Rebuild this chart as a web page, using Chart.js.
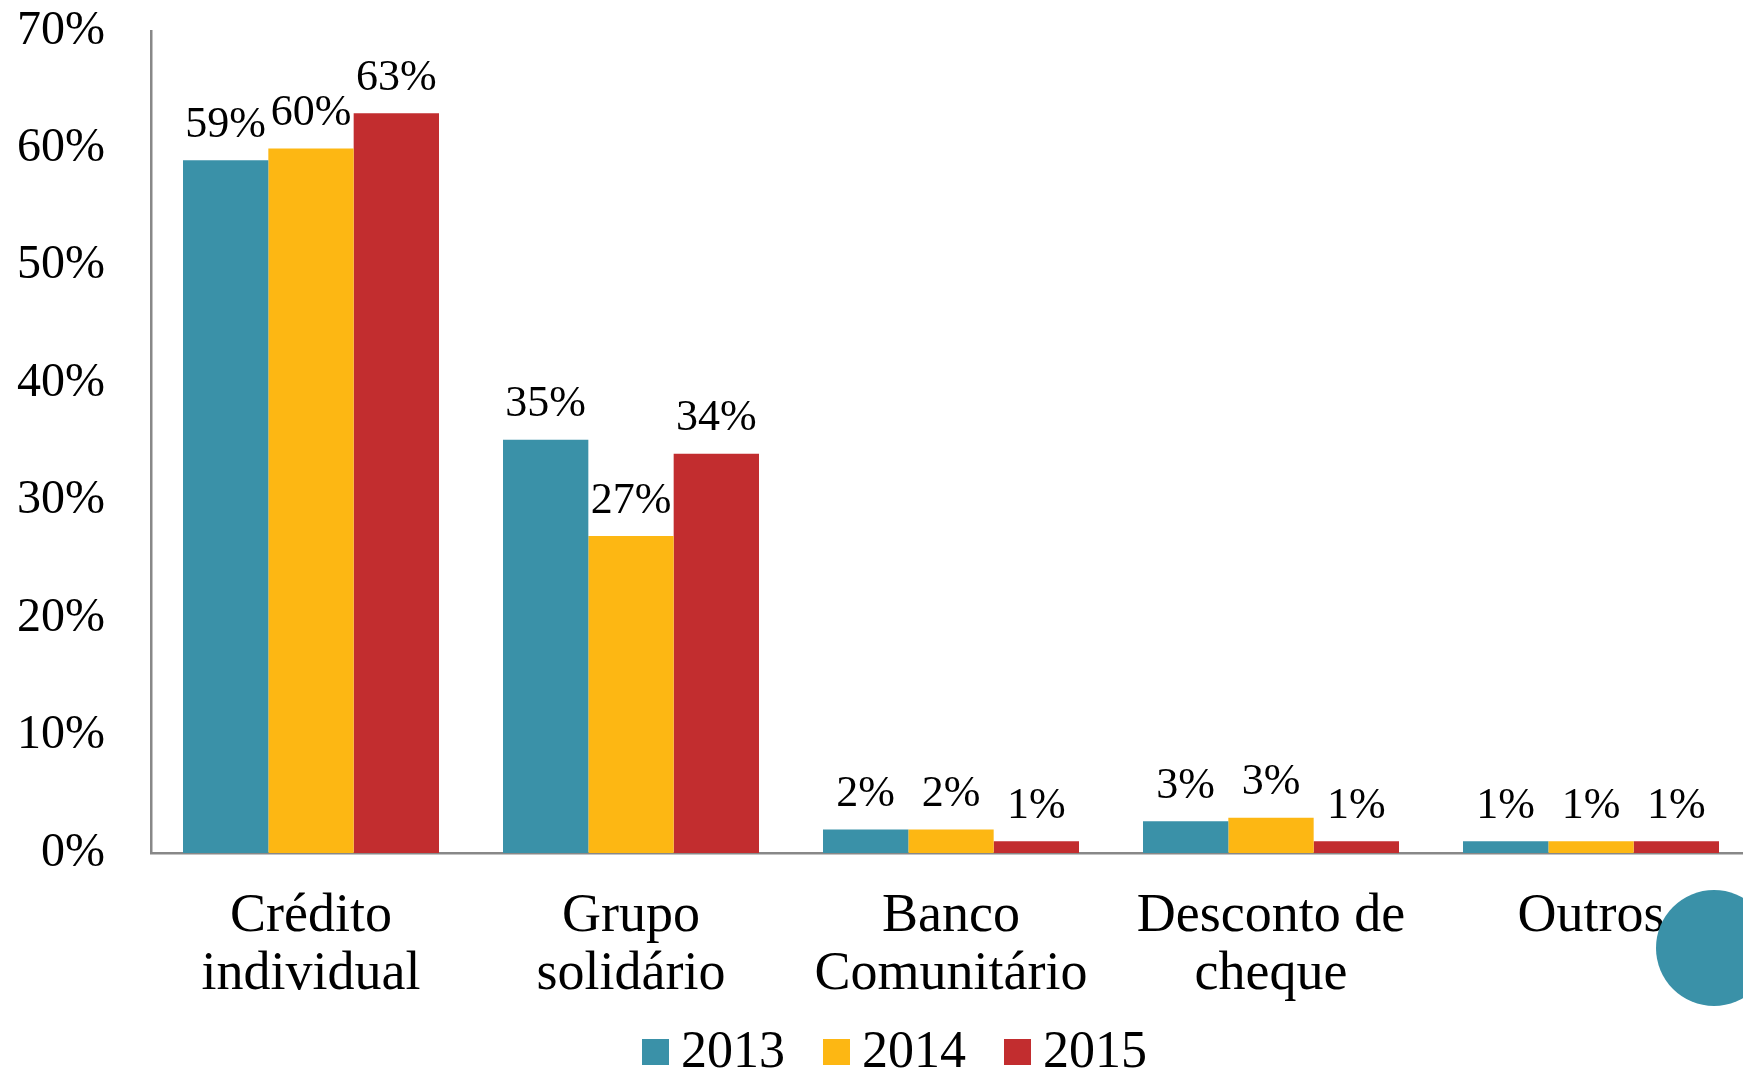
<!DOCTYPE html>
<html><head><meta charset="utf-8">
<script src="https://cdn.jsdelivr.net/npm/chart.js@4/dist/chart.umd.min.js"></script>
<style>
html,body{margin:0;padding:0;overflow:hidden;background:#fff;width:1743px;height:1073px}
#wrap{position:absolute;left:0;top:0;width:1760px;height:1073px}
</style>
</head><body><div id="wrap"><canvas id="c" width="1760" height="1073"></canvas></div>
<script>
const categories = [['Crédito','individual'],['Grupo','solidário'],['Banco','Comunitário'],['Desconto de','cheque'],'Outros'];
const seriesNames = ['2013','2014','2015'];
const values2013 = [59, 35.2, 2, 2.7, 1];
const values2014 = [60, 27, 2, 3, 1];
const values2015 = [63, 34, 1, 1, 1];
const yTickValues = [0, 10, 20, 30, 40, 50, 60, 70];
const seriesColors = ['#3a91a8', '#fdb713', '#c22d2f'];

const FONT = '"Liberation Serif", "Times New Roman", serif';

const valueLabels = {
  id: 'valueLabels',
  afterDatasetsDraw(chart) {
    const ctx = chart.ctx;
    ctx.save();
    ctx.font = '44px ' + FONT;
    ctx.fillStyle = '#000';
    ctx.textAlign = 'center';
    ctx.textBaseline = 'middle';
    chart.data.datasets.forEach((ds, i) => {
      chart.getDatasetMeta(i).data.forEach((bar, j) => {
        ctx.fillText(Math.round(ds.data[j]) + '%', bar.x, bar.y - 35);
      });
    });
    ctx.restore();
  }
};

const customLegend = {
  id: 'customLegend',
  afterDraw(chart) {
    const ctx = chart.ctx;
    ctx.save();
    ctx.font = '52px ' + FONT;
    ctx.textBaseline = 'middle';
    ctx.textAlign = 'left';
    const step = 181, startX = 642, cy = 1052;
    chart.data.datasets.forEach((ds, i) => {
      const x = startX + i * step;
      ctx.fillStyle = ds.backgroundColor;
      ctx.fillRect(x, cy - 13, 27, 26);
      ctx.fillStyle = '#000';
      ctx.fillText(ds.label, x + 39, cy + 1);
    });
    ctx.restore();
  }
};

const decoCircle = {
  id: 'decoCircle',
  afterDraw(chart) {
    const ctx = chart.ctx;
    ctx.save();
    ctx.fillStyle = '#3a91a8';
    ctx.beginPath();
    ctx.arc(1714, 948, 58, 0, Math.PI * 2);
    ctx.fill();
    ctx.restore();
  }
};

new Chart(document.getElementById('c'), {
  type: 'bar',
  data: {
    labels: categories,
    datasets: [
      { label: seriesNames[0], data: values2013, backgroundColor: seriesColors[0] },
      { label: seriesNames[1], data: values2014, backgroundColor: seriesColors[1] },
      { label: seriesNames[2], data: values2015, backgroundColor: seriesColors[2] }
    ]
  },
  options: {
    responsive: false,
    animation: false,
    layout: { padding: { top: 31, left: 0, right: 9, bottom: 0 } },
    datasets: { bar: { categoryPercentage: 0.8, barPercentage: 1.0, borderWidth: 0 } },
    plugins: { legend: { display: false }, tooltip: { enabled: false } },
    scales: {
      x: {
        grid: { display: false, drawTicks: false },
        border: { display: true, color: '#888888', width: 2.5 },
        ticks: {
          color: '#000', padding: 35, autoSkip: false, maxRotation: 0,
          font: { family: FONT, size: 54, lineHeight: 1.07 }
        },
        afterFit(s) { s.height = 220; s.paddingTop = 0; s.paddingBottom = 0; }
      },
      y: {
        min: 0, max: 70,
        grid: { display: false, drawTicks: false },
        border: { display: true, color: '#888888', width: 2.5 },
        afterBuildTicks(s) { s.ticks = yTickValues.map(v => ({ value: v })); },
        ticks: {
          color: '#000', padding: 46,
          font: { family: FONT, size: 48 },
          callback: v => v + '%'
        },
        afterFit(s) { s.width = 151; s.paddingTop = 0; s.paddingBottom = 0; }
      }
    }
  },
  plugins: [valueLabels, customLegend, decoCircle]
});
</script>
</body></html>
